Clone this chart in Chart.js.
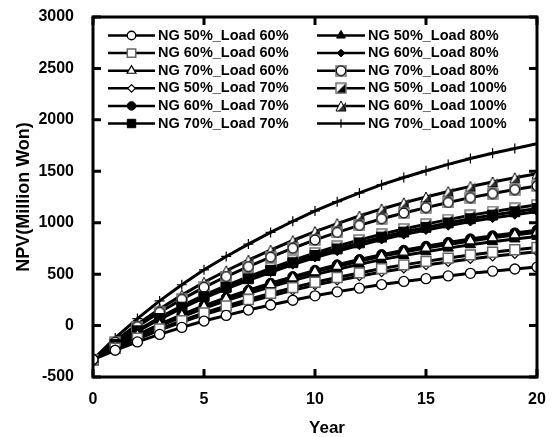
<!DOCTYPE html>
<html>
<head>
<meta charset="utf-8">
<script src="https://cdn.jsdelivr.net/npm/chart.js@4.4.1/dist/chart.umd.min.js"></script>
<style>
  html, body { margin: 0; padding: 0; background: #fff; }
</style>
</head>
<body>
<canvas id="npv" width="555" height="437"></canvas>
<script>
var years = [0,1,2,3,4,5,6,7,8,9,10,11,12,13,14,15,16,17,18,19,20];

// NPV in million won
var ng50_load60  = [-330,-240,-159,-86,-18,44,99,151,200,246,289,328,364,399,429,456,483,508,529,550,569];
var ng60_load60  = [-330,-221,-123,-34,48,123,191,253,313,369,421,468,512,554,590,624,656,687,713,737,760];
var ng70_load60  = [-330,-206,-95,6,99,184,261,332,399,463,523,576,626,673,714,753,789,823,853,881,907];
var ng50_load70  = [-330,-225,-131,-45,34,106,171,231,288,342,393,438,480,520,555,588,619,648,673,696,719];
var ng60_load70  = [-330,-204,-91,12,106,193,271,343,412,476,537,591,642,690,732,771,808,843,873,901,928];
var ng70_load70  = [-330,-183,-51,69,179,280,371,455,535,611,682,745,804,860,909,955,998,1039,1074,1106,1138];
var ng50_load80  = [-330,-210,-103,-5,85,168,242,311,376,437,495,547,595,641,681,718,753,786,815,842,867];
var ng60_load80  = [-330,-186,-57,61,169,268,357,440,518,592,661,723,781,836,884,929,971,1011,1045,1078,1109];
var ng70_load80  = [-330,-161,-10,129,255,372,477,573,665,752,833,906,974,1039,1095,1147,1197,1244,1284,1322,1358];
var ng50_load100 = [-330,-179,-45,79,191,295,388,475,556,634,706,771,832,889,939,986,1030,1072,1108,1141,1174];
var ng60_load100 = [-330,-149,13,161,296,421,533,636,734,827,914,992,1065,1134,1194,1250,1303,1353,1396,1437,1476];
var ng70_load100 = [-330,-120,68,240,397,542,672,792,906,1014,1115,1205,1290,1370,1440,1505,1567,1625,1675,1722,1767];

var seriesNames = [
  "NG 50%_Load 60%", "NG 60%_Load 60%", "NG 70%_Load 60%",
  "NG 50%_Load 70%", "NG 60%_Load 70%", "NG 70%_Load 70%",
  "NG 50%_Load 80%", "NG 60%_Load 80%", "NG 70%_Load 80%",
  "NG 50%_Load 100%", "NG 60%_Load 100%", "NG 70%_Load 100%"
];
var seriesValues = [
  ng50_load60, ng60_load60, ng70_load60,
  ng50_load70, ng60_load70, ng70_load70,
  ng50_load80, ng60_load80, ng70_load80,
  ng50_load100, ng60_load100, ng70_load100
];

var fontFamily = "'Liberation Sans', Arial, sans-serif";
Chart.defaults.font.family = fontFamily;
Chart.defaults.font.weight = 'bold';
Chart.defaults.color = '#000';

// little bitmaps for the odd markers
function marker(size, paint) {
  var c = document.createElement('canvas');
  c.width = size; c.height = size;
  paint(c.getContext('2d'), size);
  return c;
}
var squareCircle = marker(12, function (g) {
  g.fillStyle = '#fff'; g.strokeStyle = '#777'; g.lineWidth = 1.5;
  g.fillRect(1, 1, 10, 10); g.strokeRect(1, 1, 10, 10);
  g.beginPath(); g.arc(6, 6, 4.8, 0, Math.PI * 2);
  g.fill(); g.strokeStyle = '#000'; g.lineWidth = 1.2; g.stroke();
});
var halfSquare = marker(12, function (g) {
  g.fillStyle = '#fff'; g.fillRect(1, 1, 10, 10);
  g.fillStyle = '#000';
  g.beginPath(); g.moveTo(11, 1); g.lineTo(11, 11); g.lineTo(1, 11); g.closePath(); g.fill();
  g.strokeStyle = '#777'; g.lineWidth = 1.5; g.strokeRect(1, 1, 10, 10);
});
var halfTriangle = marker(12, function (g) {
  g.fillStyle = '#fff';
  g.beginPath(); g.moveTo(6, 1); g.lineTo(11, 11); g.lineTo(1, 11); g.closePath(); g.fill();
  g.fillStyle = '#333';
  g.beginPath(); g.moveTo(11, 2); g.lineTo(11, 11); g.lineTo(3, 11); g.closePath(); g.fill();
  g.strokeStyle = '#000'; g.lineWidth = 1;
  g.beginPath(); g.moveTo(6, 1); g.lineTo(11, 11); g.lineTo(1, 11); g.closePath(); g.stroke();
});

var styles = [
  { pointStyle: 'circle',   radius: 5,   fill: '#fff', border: '#000', bw: 1.3 },
  { pointStyle: 'rect',     radius: 7,   fill: '#fff', border: '#666', bw: 1.5 },
  { pointStyle: 'triangle', radius: 6,   fill: '#fff', border: '#000', bw: 1.2 },
  { pointStyle: 'rectRot',  radius: 4.5, fill: '#fff', border: '#000', bw: 1.2 },
  { pointStyle: 'circle',   radius: 5,   fill: '#000', border: '#000', bw: 1 },
  { pointStyle: 'rect',     radius: 7,   fill: '#000', border: '#000', bw: 1 },
  { pointStyle: 'triangle', radius: 6,   fill: '#000', border: '#000', bw: 1 },
  { pointStyle: 'rectRot',  radius: 4.5, fill: '#000', border: '#000', bw: 1 },
  { pointStyle: squareCircle, radius: 6, fill: '#fff', border: '#000', bw: 0 },
  { pointStyle: halfSquare,   radius: 6, fill: '#fff', border: '#000', bw: 0 },
  { pointStyle: halfTriangle, radius: 6, fill: '#fff', border: '#000', bw: 0 },
  { pointStyle: 'cross',    radius: 5,   fill: '#000', border: '#000', bw: 1.2 }
];

var datasets = seriesNames.map(function (name, i) {
  var s = styles[i];
  return {
    label: name,
    data: seriesValues[i],
    borderColor: '#000',
    borderWidth: 3,
    tension: 0,
    pointStyle: s.pointStyle,
    pointRadius: s.radius,
    pointHoverRadius: s.radius,
    pointBackgroundColor: s.fill,
    pointBorderColor: s.border,
    pointBorderWidth: s.bw
  };
});

// box, inward ticks, x title and the two-column legend
var frame = {
  id: 'frame',
  afterDraw: function (chart) {
    var ctx = chart.ctx, a = chart.chartArea;
    var xs = chart.scales.x, ys = chart.scales.y;
    ctx.save();
    ctx.strokeStyle = '#000';
    ctx.lineWidth = 3;
    ctx.strokeRect(a.left, a.top, a.right - a.left, a.bottom - a.top);
    ctx.beginPath();
    ys.ticks.forEach(function (t) {
      var y = ys.getPixelForValue(t.value);
      ctx.moveTo(a.left, y);  ctx.lineTo(a.left + 8, y);
      ctx.moveTo(a.right, y); ctx.lineTo(a.right - 8, y);
    });
    xs.ticks.forEach(function (t) {
      var x = xs.getPixelForValue(t.value);
      ctx.moveTo(x, a.bottom); ctx.lineTo(x, a.bottom - 8);
      ctx.moveTo(x, a.top);    ctx.lineTo(x, a.top + 8);
    });
    ctx.stroke();

    ctx.fillStyle = '#000';
    ctx.font = "bold 17px " + fontFamily;
    ctx.textAlign = 'center';
    ctx.textBaseline = 'middle';
    ctx.fillText('Year', (a.left + a.right) / 2 + 12, 428);

    ctx.font = "bold 14.5px " + fontFamily;
    ctx.textAlign = 'left';
    chart.data.datasets.forEach(function (ds, i) {
      var col = i < 6 ? 0 : 1, row = i % 6;
      var x0 = col ? 317 : 108, x1 = col ? 365 : 155;
      var y = 35.5 + row * 17.6;
      ctx.strokeStyle = '#000';
      ctx.lineWidth = 2.5;
      ctx.beginPath(); ctx.moveTo(x0, y); ctx.lineTo(x1, y); ctx.stroke();
      ctx.fillStyle = ds.pointBackgroundColor;
      ctx.strokeStyle = ds.pointBorderColor;
      ctx.lineWidth = ds.pointBorderWidth;
      Chart.helpers.drawPoint(ctx, {
        pointStyle: ds.pointStyle,
        radius: ds.pointRadius * 0.85,
        rotation: 0,
        borderWidth: ds.pointBorderWidth
      }, (x0 + x1) / 2, y);
      ctx.fillStyle = '#000';
      ctx.fillText(ds.label, x1 + 3, y);
    });
    ctx.restore();
  }
};

new Chart(document.getElementById('npv'), {
  type: 'line',
  data: { labels: years, datasets: datasets },
  options: {
    responsive: false,
    animation: false,
    layout: { padding: { left: 0, right: 18, top: 17, bottom: 0 } },
    plugins: { legend: { display: false }, tooltip: { enabled: false } },
    scales: {
      x: {
        type: 'linear', min: 0, max: 20,
        ticks: { stepSize: 5, padding: 13, font: { size: 16, weight: 'bold' } },
        grid: { display: false, drawTicks: false },
        border: { display: false },
        afterFit: function (s) { s.height = 60; s.paddingLeft = 0; s.paddingRight = 0; }
      },
      y: {
        min: -500, max: 3000,
        ticks: {
          stepSize: 500, padding: 19, font: { size: 16, weight: 'bold' },
          callback: function (v) { return String(v); }
        },
        grid: { display: false, drawTicks: false },
        border: { display: false },
        title: { display: true, text: 'NPV(Million Won)', font: { size: 18, weight: 'bold' }, padding: { top: 13, bottom: 0 } },
        afterFit: function (s) { s.width = 93; s.paddingTop = 0; s.paddingBottom = 0; }
      }
    }
  },
  plugins: [frame]
});
</script>
</body>
</html>
